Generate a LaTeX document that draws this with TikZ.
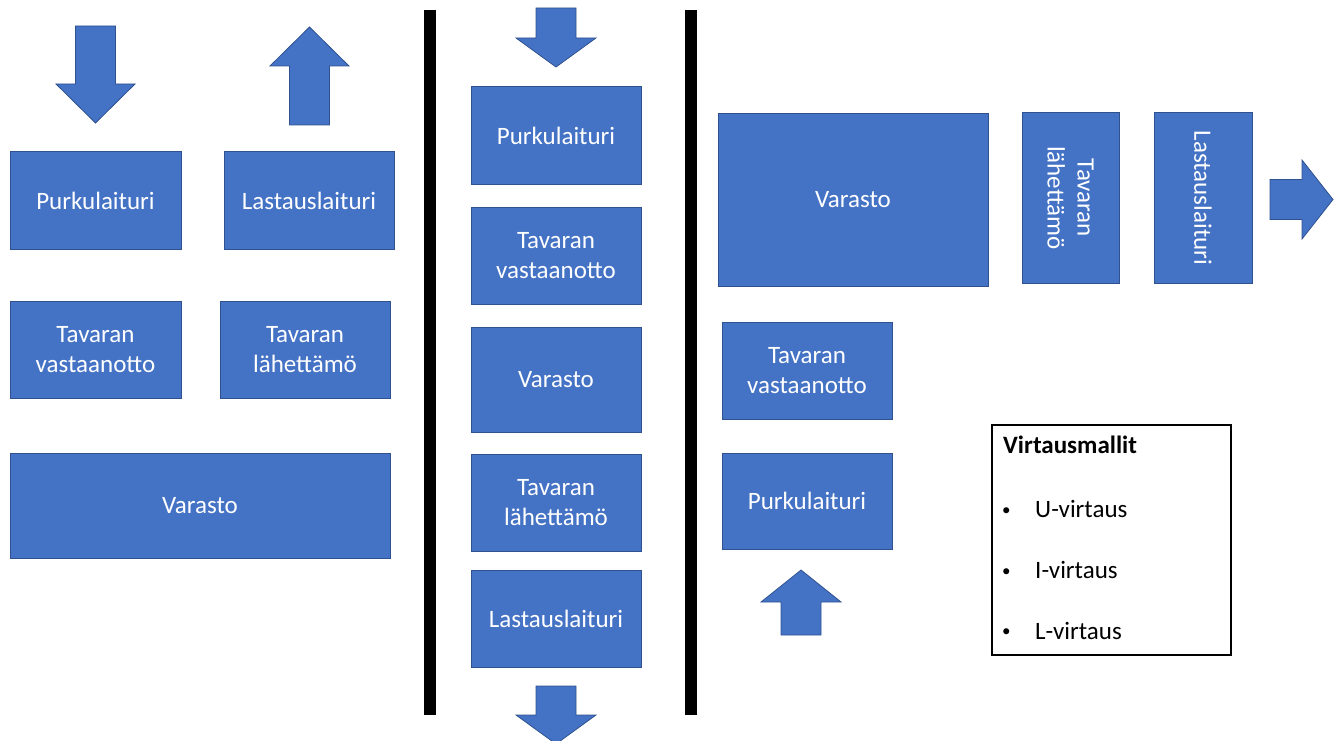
\documentclass[tikz,border=0pt]{standalone}
\usepackage{fontspec}
\setmainfont{Carlito}
\definecolor{boxfill}{HTML}{4472C4}
\definecolor{boxline}{HTML}{2F528F}
\tikzset{
  blk/.style={draw=boxline, fill=boxfill, line width=1pt, text=white, align=center,
    inner sep=0pt, font=\fontsize{25}{30}\selectfont},
  flowarrow/.style={draw=boxline, fill=boxfill, line width=0.8pt, line join=miter},
  bar/.style={fill=black, draw=none},
  legtext/.style={anchor=base west, inner sep=0pt, font=\fontsize{25}{30}\selectfont},
  bullet/.style={anchor=base west, inner sep=0pt, font=\fontsize{17}{20}\selectfont}
}
\begin{document}
\begin{tikzpicture}[x=1pt,y=-1pt]
\useasboundingbox (0,0) rectangle (1341,741);
\clip (0,0) rectangle (1341,741);
% ---------- left: U-flow ----------
\draw[flowarrow] (75.5,26) -- (115.5,26) -- (115.5,84) -- (135,84) -- (95.5,123) -- (56,84) -- (75.5,84) -- cycle;
\draw[flowarrow] (289.5,125) -- (329.5,125) -- (329.5,66) -- (349,66) -- (309.5,27) -- (270,66) -- (289.5,66) -- cycle;
\node[blk, minimum width=171, minimum height=97] (lp) at (95.5,200.5) {Purkulaituri};
\node[blk, minimum width=170, minimum height=97] (ll) at (309,200.5) {Lastauslaituri};
\node[blk, minimum width=171, minimum height=97] (lv) at (95.5,349.5) {Tavaran\\vastaanotto};
\node[blk, minimum width=170, minimum height=97] (lh) at (305,349.5) {Tavaran\\lähettämö};
\node[blk, minimum width=380, minimum height=105] (lw) at (200,505.5) {Varasto};
% ---------- separators ----------
\fill[bar] (424,10) rectangle (436,715);
\fill[bar] (685,10) rectangle (697,715);
% ---------- middle: I-flow ----------
\draw[flowarrow] (536,8) -- (576,8) -- (576,38) -- (596,38) -- (556,67) -- (516,38) -- (536,38) -- cycle;
\node[blk, minimum width=170, minimum height=97] (mp) at (556,135.5) {Purkulaituri};
\node[blk, minimum width=170, minimum height=97] (mv) at (556,255.5) {Tavaran\\vastaanotto};
\node[blk, minimum width=170, minimum height=105] (mw) at (556,379.5) {Varasto};
\node[blk, minimum width=170, minimum height=97] (mh) at (556,503) {Tavaran\\lähettämö};
\node[blk, minimum width=170, minimum height=97] (ml) at (556,618.5) {Lastauslaituri};
\draw[flowarrow] (536,686) -- (576,686) -- (576,715) -- (596,715) -- (556,744) -- (516,715) -- (536,715) -- cycle;
% ---------- right: L-flow ----------
\node[blk, minimum width=270, minimum height=172] (rw) at (853,200) {Varasto};
\node[blk, rotate=-90, minimum width=170, minimum height=97] (rh) at (1070.5,198) {Tavaran\\lähettämö};
\node[blk, rotate=-90, minimum width=170, minimum height=98] (rl) at (1203,198) {Lastauslaituri};
\draw[flowarrow] (1270,179.5) -- (1302,179.5) -- (1302,160) -- (1333,199.5) -- (1302,239) -- (1302,219.5) -- (1270,219.5) -- cycle;
\node[blk, minimum width=170, minimum height=97] (rv) at (807,370.5) {Tavaran\\vastaanotto};
\node[blk, minimum width=170, minimum height=96] (rp) at (807,501) {Purkulaituri};
\draw[flowarrow] (781,635) -- (821,635) -- (821,602) -- (841,602) -- (801,570) -- (761,602) -- (781,602) -- cycle;
% ---------- legend ----------
\node[draw=black, line width=1.5pt, minimum width=239, minimum height=230, inner sep=0pt] (leg) at (1111.5,540) {};
\node[legtext, font=\fontsize{25}{30}\selectfont\bfseries] (lt) at (1003,453) {Virtausmallit};
\node[bullet] (b1) at (1002,515) {•};
\node[legtext] (u) at (1035,517) {U-virtaus};
\node[bullet] (b2) at (1002,576) {•};
\node[legtext] (i) at (1035,578) {I-virtaus};
\node[bullet] (b3) at (1002,636) {•};
\node[legtext] (l) at (1035,639) {L-virtaus};
\end{tikzpicture}
\end{document}
